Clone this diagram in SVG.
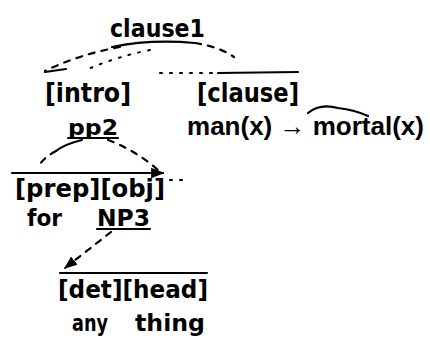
<svg xmlns="http://www.w3.org/2000/svg" width="430" height="339" viewBox="0 0 430 339">
<defs>
<marker id="ah" viewBox="0 0 10 10" refX="9" refY="5" markerWidth="6" markerHeight="6" orient="auto-start-reverse">
<path d="M0,1 L10,5 L0,9 z" fill="#000"/>
</marker>
<style>
text{font-family:"DejaVu Sans","Liberation Sans",sans-serif;font-weight:bold;fill:#000;}
.ln{fill:none;stroke:#000;stroke-width:2.2;stroke-linecap:round;}
.ds{fill:none;stroke:#000;stroke-width:2.2;stroke-dasharray:6 7;stroke-linecap:round;}
.dt{fill:none;stroke:#000;stroke-width:2;stroke-dasharray:2 8;stroke-linecap:round;}
</style>
</defs>
<rect width="430" height="339" fill="#fff"/>
<g id="connectors">
<path class="ln" d="M112,47 Q150,39 195,43"/>
<path class="ds" d="M195,43 Q220,47 234,57"/>
<path class="ds" d="M120,47 Q80,54 45,71"/>
<path class="dt" d="M150,50 Q115,57 86,70"/>
<path class="dt" d="M160,73 L215,73"/>
<path class="ln" d="M218,73 L298,72"/>
<path class="ln" d="M45,72 L66,69"/>
<path class="ln" d="M308,113 Q320,103 338,108 Q355,110 368,116"/>
<path class="ln" d="M68,138 L118,138"/>
<path class="ln" d="M82,140 Q65,144 56,151"/>
<path class="ds" d="M56,151 Q46,156 40,164"/>
<path class="ds" d="M108,140 Q135,150 158,170"/>
<path class="ln" d="M12,173 L163,173" marker-end="url(#ah)"/>
<path class="dt" d="M170,180 L184,180"/>
<path class="ln" d="M97,229 L150,229"/>
<path class="ds" d="M111,232 L65,268" marker-end="url(#ah)"/>
<path class="ln" d="M60,273 L207,273"/>
</g>
<g id="clause1"><text x="110" y="37" font-size="24" textLength="95" lengthAdjust="spacingAndGlyphs">clause1</text></g>
<g id="intro"><text x="45" y="102" font-size="26" textLength="86" lengthAdjust="spacingAndGlyphs">[intro]</text></g>
<g id="clause"><text x="197" y="102" font-size="26" textLength="102" lengthAdjust="spacingAndGlyphs">[clause]</text></g>
<g id="formula"><text x="187" y="135" font-size="26" style="font-family:'Liberation Sans','DejaVu Sans',sans-serif" textLength="237" lengthAdjust="spacingAndGlyphs">man(x) → mortal(x)</text></g>
<g id="pp2"><text x="68" y="135" font-size="22" textLength="50" lengthAdjust="spacingAndGlyphs">pp2</text></g>
<g id="prepobj"><text x="15" y="197" font-size="24" textLength="150" lengthAdjust="spacingAndGlyphs">[prep][obj]</text></g>
<g id="for"><text x="27" y="226" font-size="23" textLength="35" lengthAdjust="spacingAndGlyphs">for</text></g>
<g id="NP3"><text x="97" y="226" font-size="23" textLength="53" lengthAdjust="spacingAndGlyphs">NP3</text></g>
<g id="dethead"><text x="58" y="298" font-size="25" textLength="150" lengthAdjust="spacingAndGlyphs">[det][head]</text></g>
<g id="any"><text x="72" y="331" font-size="23" textLength="36" lengthAdjust="spacingAndGlyphs">any</text></g>
<g id="thing"><text x="135" y="331" font-size="23" textLength="70" lengthAdjust="spacingAndGlyphs">thing</text></g>
</svg>
